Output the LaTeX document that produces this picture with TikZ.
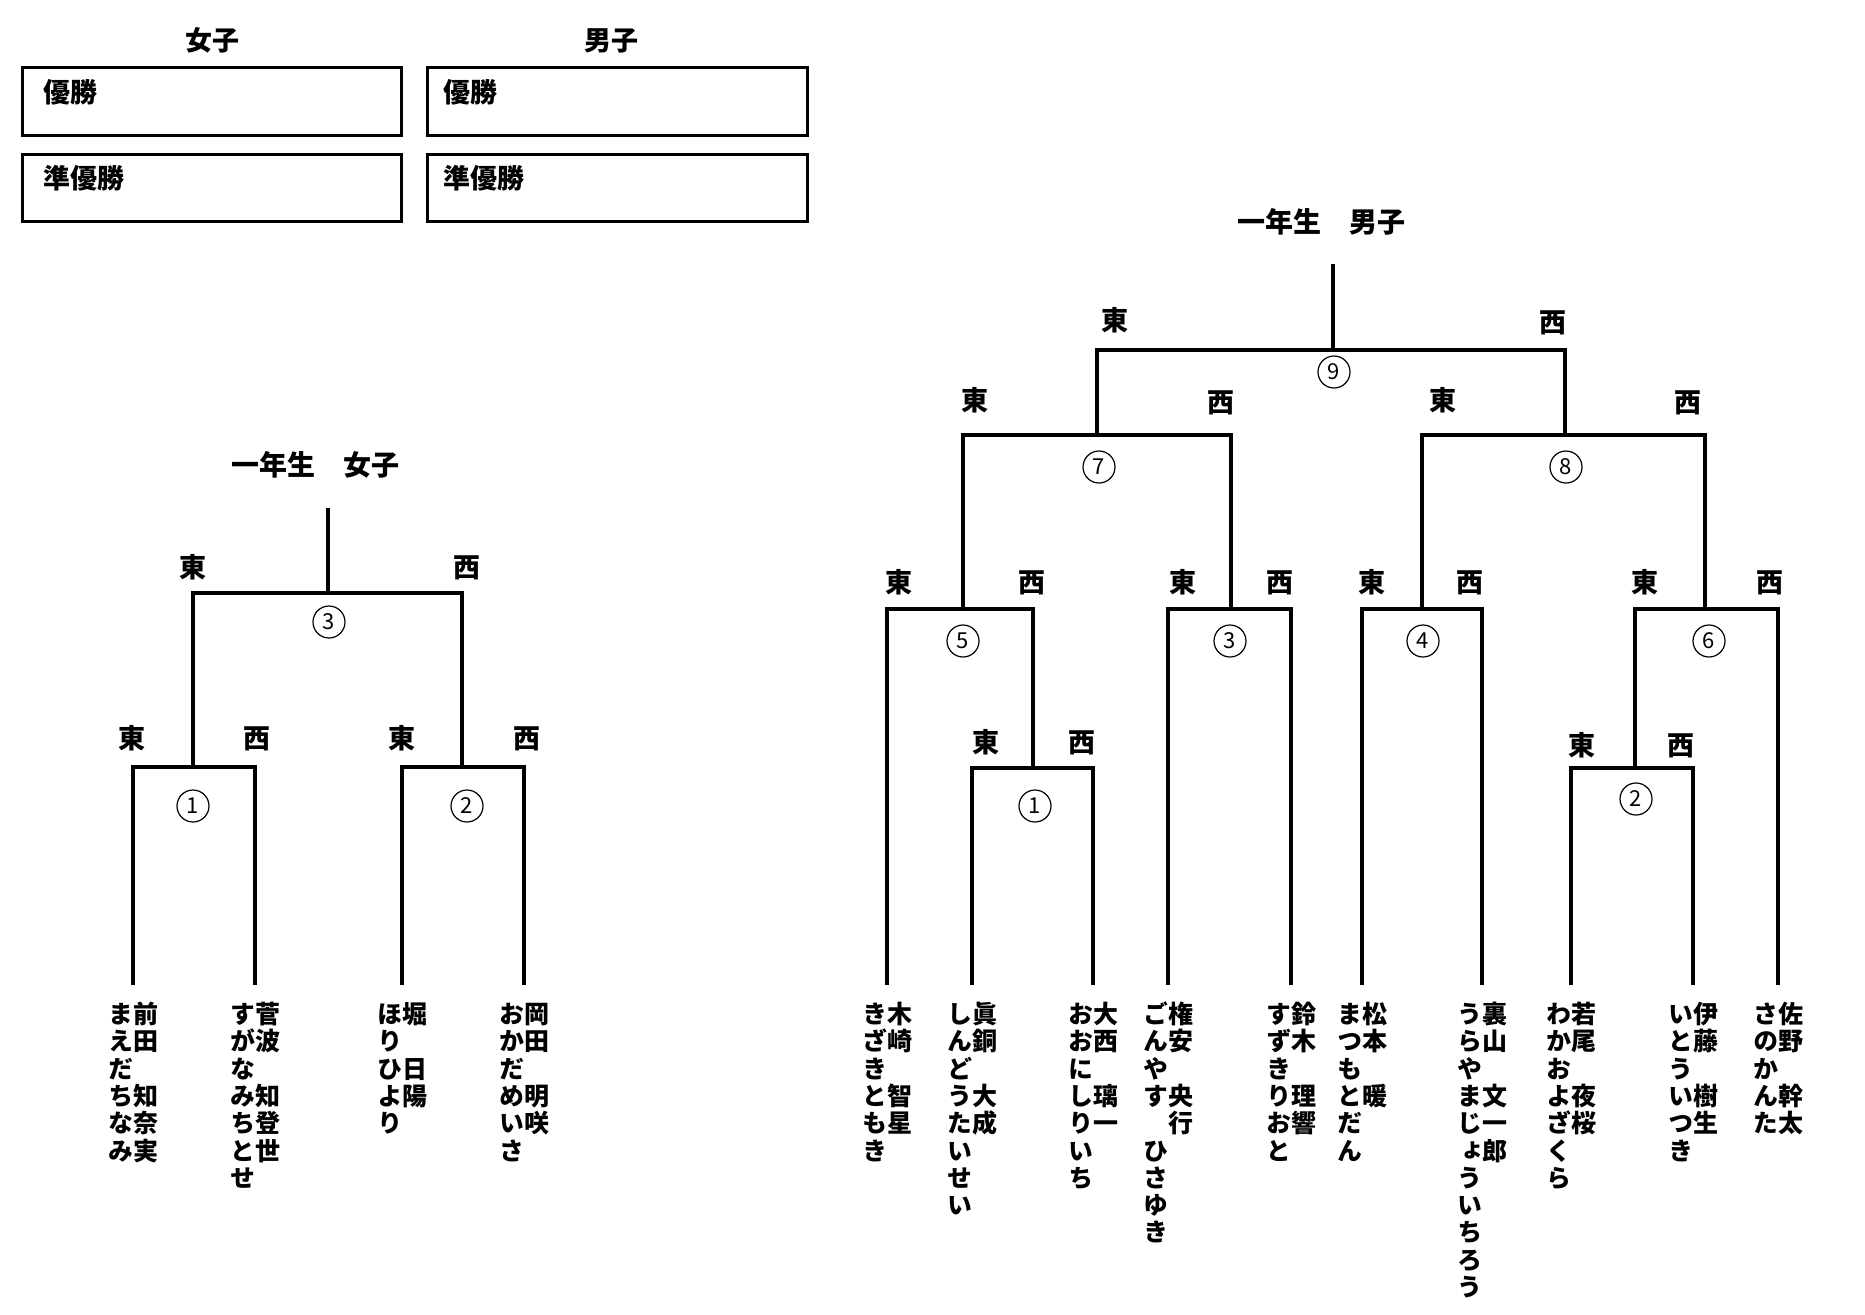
\documentclass[tikz,border=0pt]{standalone}
\usepackage{fontspec}
\newfontfamily\jp{Noto Sans CJK JP}
\newfontfamily\jpv{Noto Sans CJK JP}[RawFeature=+vert]
\newcount\vcnt
\newcommand\vcol[4]{\global\vcnt=0 \def\vpre{#1}\def\vx{#2}\def\vy{#3}\vcolaux#4\relax}
\def\vcolaux#1{\ifx\relax#1\else
  \node[namech] (\vpre\the\vcnt) at (\vx,\vy+27.3*\the\vcnt) {#1};%
  \global\advance\vcnt by 1 \expandafter\vcolaux\fi}
\newcommand\pname[5]{% prefix, line x, kanji, kana
  \vcol{#1k}{#2+13}{1014}{#3}\vcol{#1r}{#2-12}{1014}{#4}}
\tikzset{
  ln/.style={line width=3.8pt, line cap=butt, line join=miter},
  prizebox/.style={draw, line width=3pt},
  lab/.style={font=\jp\bfseries\fontsize{27pt}{27pt}\selectfont, inner sep=0pt, text height=23.8pt, text depth=3.2pt},
  ttl/.style={font=\jp\bfseries\fontsize{28pt}{28pt}\selectfont, inner sep=0pt, text height=24.6pt, text depth=3.4pt},
  namech/.style={font=\jpv\bfseries\fontsize{25pt}{25pt}\selectfont, inner sep=0pt, text height=22pt, text depth=3pt},
  num/.style={circle, draw, line width=1.2pt, minimum size=32pt, inner sep=0pt, font=\jp\fontsize{22pt}{22pt}\selectfont}
}
\begin{document}
\begin{tikzpicture}[x=1pt,y=-1pt]
\useasboundingbox[fill=white] (0,0) rectangle (1865,1314);
% ---- prize boxes ----
\node[lab] (hW) at (212,40) {女子};
\node[lab] (hM) at (611,40) {男子};
\draw[prizebox] (22,68) rectangle (401,135);
\draw[prizebox] (22,154) rectangle (401,221);
\draw[prizebox] (427,68) rectangle (807,135);
\draw[prizebox] (427,154) rectangle (807,221);
\node[lab,anchor=west] (w1) at (43,92) {優勝};
\node[lab,anchor=west] (w2) at (43,178) {準優勝};
\node[lab,anchor=west] (m1) at (443,92) {優勝};
\node[lab,anchor=west] (m2) at (443,178) {準優勝};
% ---- women bracket ----
\node[ttl] (tW) at (315,465) {一年生　女子};
\coordinate (wtop) at (328,508);
\coordinate (w3c) at (328,593);
\coordinate (w3L) at (193,593); \coordinate (w3R) at (462,593);
\coordinate (w1L) at (133,767); \coordinate (w1R) at (255,767);
\coordinate (w2L) at (402,767); \coordinate (w2R) at (524,767);
\draw[ln] (wtop) -- (w3c);
\draw[ln] (w3L |- w1L) -- (w3L) -- (w3R) -- (w3R |- w2L);
\draw[ln] (w1L |- 0,985) -- (w1L) -- (w1R) -- (w1R |- 0,985);
\draw[ln] (w2L |- 0,985) -- (w2L) -- (w2R) -- (w2R |- 0,985);
\node[num] (wn3) at (329,622) {3};
\node[num] (wn1) at (193,806) {1};
\node[num] (wn2) at (467,806) {2};
\node[lab] (we3) at (193,567) {東}; \node[lab] (ww3) at (467,567) {西};
\node[lab] (we1) at (132,738) {東}; \node[lab] (ww1) at (257,738) {西};
\node[lab] (we2) at (402,738) {東}; \node[lab] (ww2) at (527,738) {西};
\pname{wa}{133}{前田~知奈実}{まえだちなみ}{}
\pname{wb}{255}{菅波~知登世}{すがなみちとせ}{}
\pname{wc}{402}{堀~日陽}{ほりひより}{}
\pname{wd}{524}{岡田~明咲}{おかだめいさ}{}
% ---- men bracket ----
\node[ttl] (tM) at (1321,222) {一年生　男子};
\coordinate (mtop) at (1333,264);
\coordinate (m9c) at (1333,350);
\coordinate (m9L) at (1097,350); \coordinate (m9R) at (1565,350);
\coordinate (m7L) at (963,435); \coordinate (m7R) at (1231,435);
\coordinate (m8L) at (1422,435); \coordinate (m8R) at (1705,435);
\coordinate (m5L) at (887,609); \coordinate (m5R) at (1033,609);
\coordinate (m3L) at (1168,609); \coordinate (m3R) at (1291,609);
\coordinate (m4L) at (1362,609); \coordinate (m4R) at (1482,609);
\coordinate (m6L) at (1635,609); \coordinate (m6R) at (1778,609);
\coordinate (m1L) at (972,768); \coordinate (m1R) at (1093,768);
\coordinate (m2L) at (1571,768); \coordinate (m2R) at (1693,768);
\draw[ln] (mtop) -- (m9c);
\draw[ln] (m9L |- m7L) -- (m9L) -- (m9R) -- (m9R |- m8L);
\draw[ln] (m7L |- m5L) -- (m7L) -- (m7R) -- (m7R |- m3L);
\draw[ln] (m8L |- m4L) -- (m8L) -- (m8R) -- (m8R |- m6L);
\draw[ln] (m5L |- 0,985) -- (m5L) -- (m5R) -- (m5R |- m1L);
\draw[ln] (m3L |- 0,985) -- (m3L) -- (m3R) -- (m3R |- 0,985);
\draw[ln] (m4L |- 0,985) -- (m4L) -- (m4R) -- (m4R |- 0,985);
\draw[ln] (m6L |- m2L) -- (m6L) -- (m6R) -- (m6R |- 0,985);
\draw[ln] (m1L |- 0,985) -- (m1L) -- (m1R) -- (m1R |- 0,985);
\draw[ln] (m2L |- 0,985) -- (m2L) -- (m2R) -- (m2R |- 0,985);
\node[num] (mn9) at (1334,372) {9};
\node[num] (mn7) at (1099,467) {7};
\node[num] (mn8) at (1566,467) {8};
\node[num] (mn5) at (963,641) {5};
\node[num] (mn3) at (1230,641) {3};
\node[num] (mn4) at (1423,641) {4};
\node[num] (mn6) at (1709,641) {6};
\node[num] (mn1) at (1035,806) {1};
\node[num] (mn2) at (1636,799) {2};
\node[lab] (me9) at (1115,320) {東}; \node[lab] (mw9) at (1553,322) {西};
\node[lab] (me7) at (975,400) {東}; \node[lab] (mw7) at (1221,402) {西};
\node[lab] (me8) at (1443,400) {東}; \node[lab] (mw8) at (1688,402) {西};
\node[lab] (me5) at (899,582) {東}; \node[lab] (mw5) at (1032,582) {西};
\node[lab] (me3) at (1183,582) {東}; \node[lab] (mw3) at (1280,582) {西};
\node[lab] (me4) at (1372,582) {東}; \node[lab] (mw4) at (1470,582) {西};
\node[lab] (me6) at (1645,582) {東}; \node[lab] (mw6) at (1770,582) {西};
\node[lab] (me1) at (986,742) {東}; \node[lab] (mw1) at (1082,742) {西};
\node[lab] (me2) at (1582,745) {東}; \node[lab] (mw2) at (1681,745) {西};
\pname{ma}{887}{木崎~智星}{きざきともき}{}
\pname{mb}{972}{眞銅~大成}{しんどうたいせい}{}
\pname{mc}{1093}{大西~璃一}{おおにしりいち}{}
\pname{md}{1168}{権安~央行}{ごんやす~ひさゆき}{}
\pname{me}{1291}{鈴木~理響}{すずきりおと}{}
\pname{mf}{1362}{松本~暖}{まつもとだん}{}
\pname{mg}{1482}{裏山~文一郎}{うらやまじょういちろう}{}
\pname{mh}{1571}{若尾~夜桜}{わかおよざくら}{}
\pname{mi}{1693}{伊藤~樹生}{いとういつき}{}
\pname{mj}{1778}{佐野~幹太}{さのかんた}{}
\end{tikzpicture}
\end{document}
